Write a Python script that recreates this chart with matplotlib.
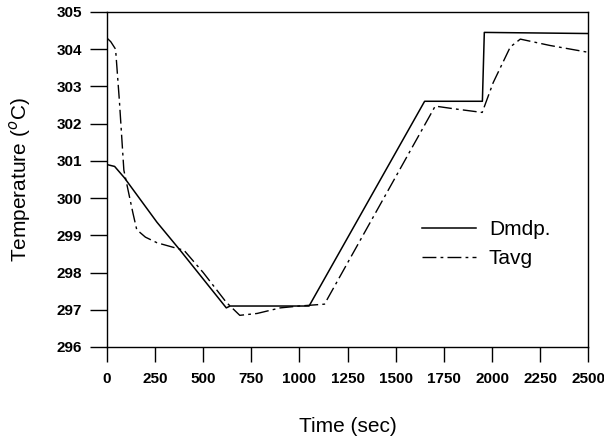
import matplotlib
matplotlib.use("Agg")
import matplotlib.pyplot as plt

plt.rcParams["font.family"] = ["Liberation Sans", "DejaVu Sans"]

# Dmdp. (solid)
dmdp_t = [0, 40, 90, 260, 380, 620, 640, 1050, 1650, 1950, 1960, 2500]
dmdp_T = [300.9, 300.85, 300.55, 299.35, 298.6, 297.05, 297.1, 297.1, 302.6, 302.6, 304.45, 304.42]

# Tavg (dash-dot)
tavg_t = [0, 20, 45, 65, 88, 135, 155, 200, 260, 363, 400, 500, 620, 690, 780, 900, 1000, 1130,
          1705, 1800, 1949, 2006, 2095, 2147, 2300, 2495]
tavg_T = [304.3, 304.2, 304.0, 302.6, 300.75, 299.6, 299.15, 298.95, 298.8, 298.65, 298.6, 298.0, 297.2,
          296.85, 296.9, 297.05, 297.1, 297.15, 302.47, 302.4, 302.3, 303.1, 304.06, 304.27, 304.1, 303.92]

xticks = list(range(0, 2501, 250))
yticks = list(range(296, 306))

fig = plt.figure(figsize=(6.04, 4.42), dpi=100)
ax = fig.add_axes([0.177, 0.215, 0.797, 0.758])

ax.plot(dmdp_t, dmdp_T, color="black", lw=1.1, label="Dmdp.")
ax.plot(tavg_t, tavg_T, color="black", lw=1.0, linestyle=(0, (10, 3, 2, 3)), label="Tavg")

ax.set_xlim(0, 2500)
ax.set_ylim(296, 305)
ax.set_xticks(xticks)
ax.set_yticks(yticks)
ax.tick_params(axis="y", direction="out", length=12, width=1, pad=6, labelsize=11)
ax.tick_params(axis="x", direction="out", length=11, width=1, pad=7, labelsize=11)
for lab in ax.get_xticklabels() + ax.get_yticklabels():
    lab.set_fontweight("bold")

for s in ax.spines.values():
    s.set_linewidth(1.0)

ax.set_xlabel("Time (sec)", fontsize=15, labelpad=22)
ax.set_ylabel("Temperature ($^{o}$C)", fontsize=15, labelpad=17)

ax.legend(loc="center left", bbox_to_anchor=(0.655, 0.307), frameon=False, fontsize=15,
          handlelength=2.6, handletextpad=0.6, labelspacing=0.45, borderpad=0, borderaxespad=0)

fig.savefig("out.png", dpi=100)
